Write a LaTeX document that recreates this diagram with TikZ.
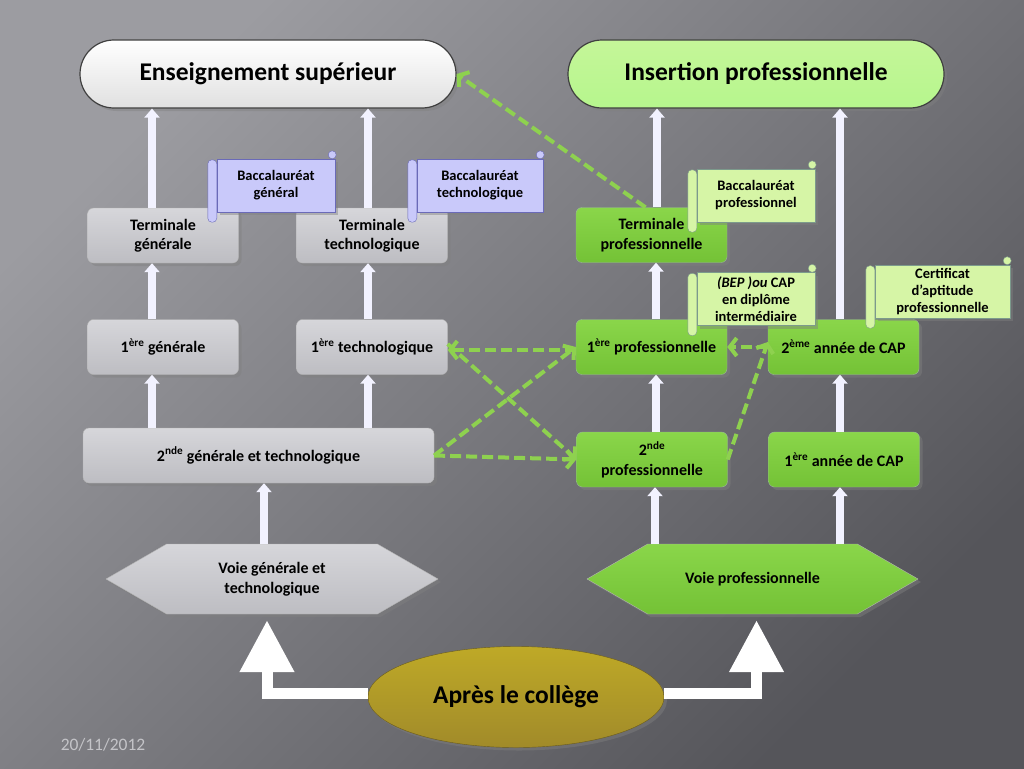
\documentclass[tikz,border=0pt]{standalone}
\usepackage{fontspec}
\setmainfont{Carlito}
\usetikzlibrary{
    arrows.meta,
    shapes.geometric,
    shapes.symbols,
    shadows,
    positioning
}
\definecolor{bglight}{HTML}{9C9CA1}
\definecolor{bgdark}{HTML}{55555A}
\definecolor{greytop}{HTML}{D6D6DA}
\definecolor{greybot}{HTML}{BDBDC2}
\definecolor{greentop}{HTML}{8AD64A}
\definecolor{greenbot}{HTML}{74C236}
\definecolor{lavfill}{HTML}{C9C9FA}
\definecolor{lavline}{HTML}{6A6AB8}
\definecolor{lgfill}{HTML}{D6F5A6}
\definecolor{lgline}{HTML}{7C9A8C}
\definecolor{dashgreen}{HTML}{8ED14F}
\definecolor{olive}{HTML}{B39A2E}
\definecolor{datecol}{HTML}{C4C4C8}
\tikzset{
    shade box/.style={drop shadow={opacity=0.45, shadow xshift=3pt, shadow yshift=-3pt}},
    titlebox/.style={rectangle, rounded corners=34, minimum width=376, minimum height=68,
        draw=black!75, line width=1.2pt, shade box, font=\fontsize{25.5}{30}\selectfont\bfseries},
    greybox/.style={rectangle, rounded corners=6, minimum width=151, minimum height=55,
        align=center, draw=black!30, top color=greytop, bottom color=greybot, shade box,
        font=\fontsize{16}{19.5}\selectfont\bfseries},
    greenbox/.style={greybox, draw=green!30!black!40, top color=greentop, bottom color=greenbot},
    scrollv/.style={rectangle, minimum width=118, minimum height=53, align=center,
        draw=lavline, fill=lavfill, shade box, font=\fontsize{14.5}{17}\selectfont\bfseries},
    scrollg/.style={scrollv, draw=lgline, fill=lgfill},
    roll/.style={draw, rounded corners=4},
    voie/.style={signal, signal to=west and east, signal pointer angle=60,
        minimum width=332, minimum height=70, align=center, draw=black!30, shade box,
        font=\fontsize{16}{20}\selectfont\bfseries},
    uparrow/.style={draw=white!95!blue, line width=8pt, -{Triangle[width=15pt, length=9pt]}},
    bigarrow/.style={draw=white, line width=11pt, line join=miter,
        -{Triangle[width=52pt, length=52pt]}, shorten >=6pt},
    pathway/.style={draw=dashgreen, line width=4pt, dash pattern=on 11pt off 5pt,
        -{Straight Barb[length=7pt, width=18pt]}}
}
\begin{document}
\begin{tikzpicture}[x=1pt, y=-1pt]
    \shade[top color=bglight, bottom color=bgdark, shading angle=45] (0,0) rectangle (1024,768);
    \useasboundingbox (0,0) rectangle (1024,768);

    % top goals
    \node[titlebox, top color=white, bottom color=black!12] (enssup) at (268,74) {Enseignement supérieur};
    \node[titlebox, top color=green!8!lgfill, bottom color=lgfill!85!green] (insertion) at (756,74) {Insertion professionnelle};

    % general and technological track
    \node[greybox] (termg) at (163,235.5) {Terminale\\générale};
    \node[greybox] (termt) at (372,235.5) {Terminale\\technologique};
    \node[greybox] (premg) at (163,347) {1\textsuperscript{ère} générale};
    \node[greybox] (premt) at (372,347) {1\textsuperscript{ère} technologique};
    \node[greybox, minimum width=351] (deuxgt) at (258.5,455.5) {2\textsuperscript{nde} générale et technologique};
    \node[voie, top color=greytop, bottom color=greybot] (voiegt) at (272,579) {Voie générale et\\technologique};

    % professional track
    \node[greenbox] (termp) at (651.5,235) {Terminale\\professionnelle};
    \node[greenbox] (premp) at (651.5,347) {1\textsuperscript{ère} professionnelle};
    \node[greenbox] (cap2) at (843.5,347) {2\textsuperscript{ème} année de CAP};
    \node[greenbox] (deuxp) at (652,459.5) {2\textsuperscript{nde}\\professionnelle};
    \node[greenbox] (cap1) at (844,459.5) {1\textsuperscript{ère} année de CAP};
    \node[voie, top color=greentop, bottom color=greenbot, minimum width=331] (voiep) at (752.5,579) {Voie professionnelle};

    \node[ellipse, minimum width=296, minimum height=101, draw=olive!60!black, top color=olive!85!yellow, bottom color=olive!90!black,
        shade box, font=\fontsize{25.5}{30}\selectfont\bfseries] (apres) at (516,697) {Après le collège};

    % white arrows
    \draw[uparrow] ([xshift=-11]termg.north) -- ([xshift=-11]termg.north |- enssup.south);
    \draw[uparrow] ([xshift=-4]termt.north) -- ([xshift=-4]termt.north |- enssup.south);
    \draw[uparrow] ([xshift=5.5]termp.north) -- ([xshift=5.5]termp.north |- insertion.south);
    \draw[uparrow] ([xshift=-3.5]cap2.north) -- ([xshift=-3.5]cap2.north |- insertion.south);
    \draw[uparrow] ([xshift=-11]premg.north) -- ([xshift=-11]termg.south);
    \draw[uparrow] ([xshift=-4]premt.north) -- ([xshift=-4]termt.south);
    \draw[uparrow] ([xshift=-11]premg.south |- deuxgt.north) -- ([xshift=-11]premg.south);
    \draw[uparrow] ([xshift=-4]premt.south |- deuxgt.north) -- ([xshift=-4]premt.south);
    \draw[uparrow] ([xshift=-8]voiegt.north) -- ([xshift=-8]voiegt.north |- deuxgt.south);
    \draw[uparrow] ([xshift=4.5]premp.north) -- ([xshift=4.5]premp.north |- termp.south);
    \draw[uparrow] ([xshift=4.5]premp.south |- deuxp.north) -- ([xshift=4.5]premp.south);
    \draw[uparrow] ([xshift=-4]cap1.north) -- ([xshift=-4]cap1.north |- cap2.south);
    \draw[uparrow] ([xshift=3]deuxp.south |- voiep.north) -- ([xshift=3]deuxp.south);
    \draw[uparrow] ([xshift=-4]cap1.south |- voiep.north) -- ([xshift=-4]cap1.south);
    \draw[bigarrow] ([yshift=4]apres.west) -| ([xshift=-5]voiegt.south);
    \draw[bigarrow] ([yshift=4]apres.east) -| ([xshift=4]voiep.south);

    % diplomas
    \node[scrollv] (bacg) at (276,185.5) {Baccalauréat\\général};
    \node[scrollv, minimum width=126] (bact) at (480,185.5) {Baccalauréat\\technologique};
    \node[scrollg] (bacp) at (756,195.5) {Baccalauréat\\professionnel};
    \node[scrollg] (bep) at (756,299) {\textit{(BEP )ou} CAP\\en diplôme\\intermédiaire};
    \node[scrollg, minimum width=135] (certif) at (942.5,291.5) {Certificat\\d’aptitude\\professionnelle};
    \foreach \s/\c/\l in {bacg/lavfill/lavline, bact/lavfill/lavline, bacp/lgfill/lgline, bep/lgfill/lgline, certif/lgfill/lgline} {
        \draw[roll, draw=\l, fill=\c] ([shift={(-9,1)}]\s.north west) rectangle ([shift={(0,10)}]\s.south west);
        \draw[draw=\l, fill=\c] ([shift={(-3,-4)}]\s.north east) circle (4);
    }

    % dashed transitions
    \draw[pathway] ([xshift=-6]termp.north) -- (enssup.east);
    \draw[pathway] ([yshift=-3]premp.west) -- ([yshift=-3]premt.east);
    \draw[pathway] (deuxgt.east) -- (premp.west);
    \draw[pathway] ([yshift=3]premt.east) -- (deuxp.west);
    \draw[pathway] (deuxgt.east) -- (deuxp.west);
    \draw[pathway] (cap2.west) -- (premp.east);
    \draw[pathway] (deuxp.east) -- ([yshift=5]cap2.west);

    \node[text=datecol, font=\fontsize{17.5}{20}\selectfont] (date) at (103,745) {20/11/2012};
\end{tikzpicture}
\end{document}
